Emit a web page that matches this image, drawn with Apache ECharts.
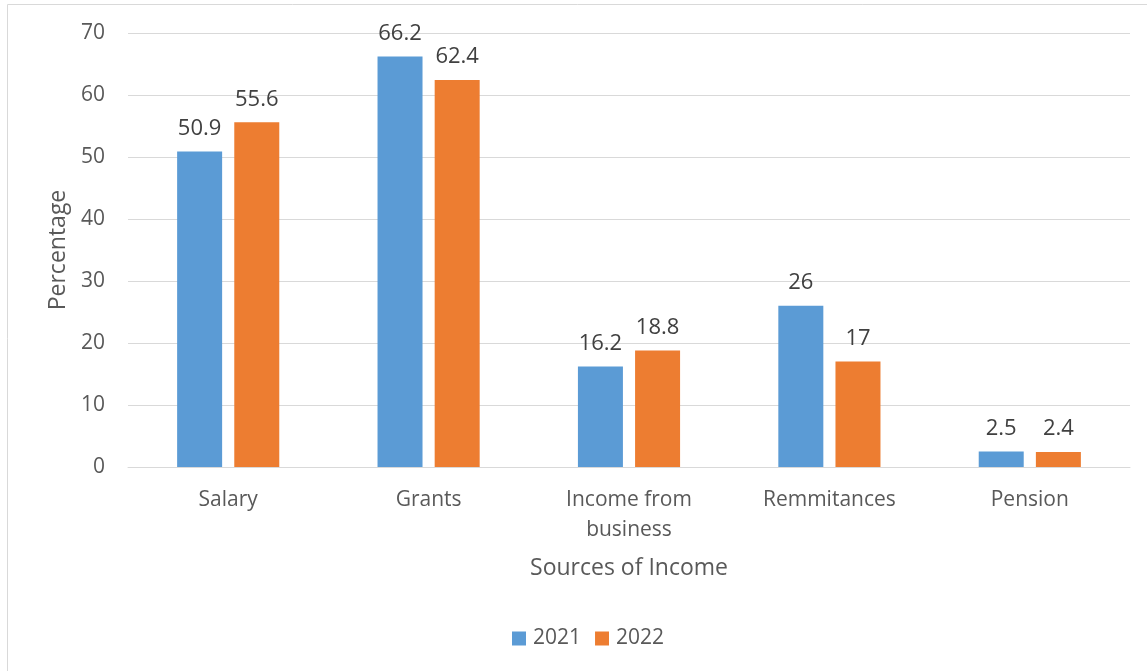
<!DOCTYPE html>
<html>
<head>
<meta charset="utf-8">
<script src="https://cdn.jsdelivr.net/npm/echarts@6/dist/echarts.min.js"></script>
<style>
  html, body { margin: 0; padding: 0; background: #fff; }
  #main { width: 1147px; height: 671px; }
</style>
</head>
<body>
<div id="main"></div>
<script>
const categories = ['Salary', 'Grants', 'Income from\nbusiness', 'Remmitances', 'Pension']
const values2021 = [50.9, 66.2, 16.2, 26, 2.5]
const values2022 = [55.6, 62.4, 18.8, 17, 2.4]

const chart = echarts.init(document.getElementById('main'))
const font = '"Open Sans", "Noto Sans", sans-serif'

const label = {
  show: true,
  position: 'top',
  distance: 12,
  color: '#404040',
  fontSize: 22,
  fontFamily: font
}

const option = {
  animation: false,
  textStyle: { fontFamily: font },
  graphic: [
    {
      type: 'rect',
      shape: { x: 7.5, y: 4.5, width: 1160, height: 700 },
      style: { fill: 'none', stroke: '#d9d9d9', lineWidth: 1 },
      silent: true
    }
  ],
  grid: { left: 128, right: 17, top: 33, bottom: 204 },
  legend: {
    bottom: 17,
    left: 507,
    itemWidth: 14,
    itemHeight: 14,
    itemGap: 14,
    icon: 'rect',
    textStyle: { color: '#595959', fontSize: 21, fontFamily: font, padding: [0, 0, 0, 2] },
    data: ['2021', '2022']
  },
  xAxis: {
    type: 'category',
    data: categories,
    name: 'Sources of Income',
    nameLocation: 'middle',
    nameGap: 90,
    nameTextStyle: { color: '#595959', fontSize: 23, fontFamily: font },
    axisLine: { lineStyle: { color: '#d9d9d9' } },
    axisTick: { show: false },
    axisLabel: { color: '#595959', fontSize: 21, margin: 18, lineHeight: 30, fontFamily: font }
  },
  yAxis: {
    type: 'value',
    min: 0,
    max: 70,
    interval: 10,
    name: 'Percentage',
    nameLocation: 'middle',
    nameGap: 56,
    nameTextStyle: { color: '#595959', fontSize: 23, fontFamily: font },
    axisLine: { show: false },
    axisTick: { show: false },
    axisLabel: { color: '#595959', fontSize: 21, margin: 23, fontFamily: font },
    splitLine: { lineStyle: { color: '#d9d9d9', width: 1 } }
  },
  series: [
    {
      name: '2021',
      type: 'bar',
      data: values2021,
      barWidth: 45,
      barGap: '27%',
      itemStyle: { color: '#5b9bd5' },
      label
    },
    {
      name: '2022',
      type: 'bar',
      data: values2022,
      barWidth: 45,
      itemStyle: { color: '#ed7d31' },
      label
    }
  ]
}

chart.setOption(option)
</script>
</body>
</html>
